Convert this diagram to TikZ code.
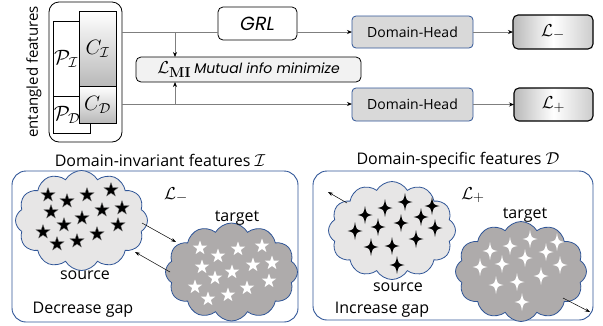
\documentclass[tikz,border=0pt]{standalone}
\usepackage[no-math]{fontspec}
\setmainfont{Open Sans}
\newfontfamily\gothic{Poppins}
\usetikzlibrary{shapes.geometric,shapes.symbols,arrows.meta}
\definecolor{pblue}{HTML}{2F5597}
\definecolor{lgray}{HTML}{D9D9D9}
\definecolor{cloudl}{HTML}{E7E6E6}
\definecolor{cloudd}{HTML}{AEABAB}
\definecolor{lineg}{HTML}{7F7F7F}
\begin{document}
\begin{tikzpicture}[x=1pt,y=-1pt,
  every node/.style={inner sep=0pt, outer sep=0pt},
  plainbox/.style={draw=black, line width=0.8pt, fill=white},
  cbox/.style={draw=black, line width=0.8pt, top color=white, bottom color=gray!55},
  headbox/.style={draw=pblue, fill=lgray, line width=0.8pt, rounded corners=4pt, font=\fontsize{14}{16}\selectfont},
  lossbox/.style={draw=black, line width=1.1pt, rounded corners=5pt, left color=gray!55, right color=gray!40, middle color=white, font=\fontsize{19}{22}\selectfont},
  conn/.style={draw=lineg, line width=0.8pt},
  arr/.style={conn, -{Stealth[length=5pt,width=4pt,black]}},
  thinarr/.style={draw=black, line width=0.5pt, -{Stealth[length=5pt,width=3.5pt]}},
  panel/.style={draw=pblue, line width=0.9pt, rounded corners=14pt},
  cloudshape/.style={cloud, cloud puffs=12, cloud puff arc=120, cloud ignores aspect, draw=pblue, line width=0.8pt},
  ptext/.style={font=\fontsize{16}{19}\selectfont},
  bstar/.style={star, star points=5, star point ratio=2.5, minimum size=15pt, fill=black, draw=gray, line width=0.3pt},
  wstar/.style={star, star points=5, star point ratio=2.5, minimum size=15pt, fill=white},
  sparkle/.pic={\fill[pic actions] (0,-9) .. controls (1.3,-1.3) .. (7.5,0) .. controls (1.3,1.3) .. (0,9) .. controls (-1.3,1.3) .. (-7.5,0) .. controls (-1.3,-1.3) .. cycle;}
]
\useasboundingbox (0,0) rectangle (603,325);

% ---------- top: entangled features ----------
\node[rotate=90, font=\fontsize{15}{18}\selectfont] (entlbl) at (34,72) {entangled features};
\node[draw=black, line width=0.8pt, rounded corners=10pt, minimum width=73pt, minimum height=140pt] (ent) at (85.5,72) {};
\node[plainbox, minimum width=37pt, minimum height=75pt] (PIbox) at (71.5,58.5) {};
\node[font=\fontsize{20}{22}\selectfont] (PItxt) at (66,59) {$\mathcal{P}_{\mathcal{I}}$};
\node[plainbox, minimum width=37pt, minimum height=37pt] (PDbox) at (71.5,114.5) {};
\node[font=\fontsize{20}{22}\selectfont] (PDtxt) at (67,115) {$\mathcal{P}_{\mathcal{D}}$};
\node[cbox, minimum width=37pt, minimum height=75pt, font=\fontsize{20}{22}\selectfont] (CI) at (97.5,48.5) {$C_{\mathcal{I}}$};
\node[cbox, minimum width=37pt, minimum height=37pt, font=\fontsize{20}{22}\selectfont] (CD) at (97.5,104.5) {$C_{\mathcal{D}}$};

% ---------- top: heads ----------
\node[draw=black, line width=0.8pt, rounded corners=5pt, fill=white, minimum width=79pt, minimum height=33pt, font=\gothic\itshape\fontsize{19}{22}\selectfont] (GRL) at (257.5,23.5) {GRL};
\node[draw=black, line width=0.8pt, rounded corners=5pt, fill=gray!10, minimum width=225pt, minimum height=25pt] (LMI) at (248.5,69.5)
  {\fontsize{19}{20}\selectfont$\mathcal{L}_{\mathbf{MI}}$\,{\gothic\itshape\fontsize{14}{16}\selectfont Mutual info minimize}};
\node[headbox, minimum width=121pt, minimum height=32pt] (DH1) at (412.5,32) {Domain-Head};
\node[headbox, minimum width=121pt, minimum height=33pt] (DH2) at (412.5,104.5) {Domain-Head};
\node[lossbox, minimum width=80pt, minimum height=34pt] (Lm) at (553,32) {$\mathcal{L}_{-}$};
\node[lossbox, minimum width=79pt, minimum height=33pt] (Lp) at (553.5,104.5) {$\mathcal{L}_{+}$};

\coordinate (ta) at (122,32);
\coordinate (tb) at (218,32);
\coordinate (tc) at (297,32);
\coordinate (ba) at (122,104);
\coordinate (va) at (175,32);
\coordinate (vb) at (175,104);
\draw[conn] (ta) -- (tb);
\draw[arr] (tc) -- (DH1.west);
\draw[arr] (ba) -- (ba -| DH2.west);
\draw[arr] (va) -- (va |- LMI.north);
\draw[arr] (vb) -- (vb |- LMI.south);
\draw[arr] (DH1.east) -- (Lm.west);
\draw[arr] (DH2.east) -- (Lp.west);

% ---------- bottom left panel ----------
\node[ptext] (tl) at (160,160) {Domain-invariant features $\mathcal{I}$};
\node[panel, minimum width=286pt, minimum height=151pt] (PL) at (155,246.5) {};
\node[cloudshape, fill=cloudl, minimum width=132pt, minimum height=100pt] (srcL) at (81.5,220.5) {};
\node[cloudshape, fill=cloudd, minimum width=132pt, minimum height=98pt] (tgtL) at (231.5,272) {};
\foreach \p [count=\i] in {(48,195),(67,201),(87,195),(111,190),(51,212),(82,218),(102,210),(122,208),(64,225),(43,232),(97,234),(118,225),(57,244),(77,241)}
  \node[bstar] (bs\i) at \p {};
\foreach \p [count=\i] in {(200,248),(218,256),(238,249),(262,246),(202,267),(232,272),(253,265),(272,263),(215,278),(195,287),(247,288),(269,281),(208,299),(228,295)}
  \node[wstar] (ws\i) at \p {};
\node[font=\fontsize{19}{22}\selectfont] (Lml) at (176,195) {$\mathcal{L}_{-}$};
\node[ptext] (tgtLt) at (237,218) {target};
\node[ptext] (srcLt) at (85,275) {source};
\node[ptext] (decr) at (83,310) {Decrease gap};
\coordinate (l1a) at (142,223);
\coordinate (l1b) at (176,242);
\coordinate (l2a) at (170,272);
\coordinate (l2b) at (135,252);
\draw[thinarr] (l1a) -- (l1b);
\draw[thinarr] (l2a) -- (l2b);

% ---------- bottom right panel ----------
\node[ptext] (tr) at (458,160) {Domain-specific features $\mathcal{D}$};
\node[panel, minimum width=280pt, minimum height=149pt] (PR) at (453,245.5) {};
\node[cloudshape, fill=cloudl, minimum width=127pt, minimum height=98pt] (srcR) at (392,230.5) {};
\node[cloudshape, fill=cloudd, minimum width=131pt, minimum height=100pt] (tgtR) at (521,271.5) {};
\foreach \p in {(365,215),(385,208),(405,202),(432,206),(355,231),(378,227),(401,223),(421,217),(435,228),(371,247),(392,246),(416,239),(397,265)}
  \pic[fill=black] at \p {sparkle};
\foreach \p in {(490,251),(510,246),(530,239),(557,242),(480,267),(502,264),(525,258),(546,252),(560,265),(496,285),(517,282),(541,276),(522,302)}
  \pic[fill=white] at \p {sparkle};
\node[font=\fontsize{19}{22}\selectfont] (Lpl) at (473,195) {$\mathcal{L}_{+}$};
\node[ptext] (tgtRt) at (525,215) {target};
\node[ptext] (srcRt) at (398,287) {source};
\node[ptext] (incr) at (382,310) {Increase gap};
\coordinate (r1a) at (347,203);
\coordinate (r1b) at (328,192);
\coordinate (r2a) at (563,298);
\coordinate (r2b) at (590,312);
\draw[thinarr] (r1a) -- (r1b);
\draw[thinarr] (r2a) -- (r2b);
\end{tikzpicture}
\end{document}
